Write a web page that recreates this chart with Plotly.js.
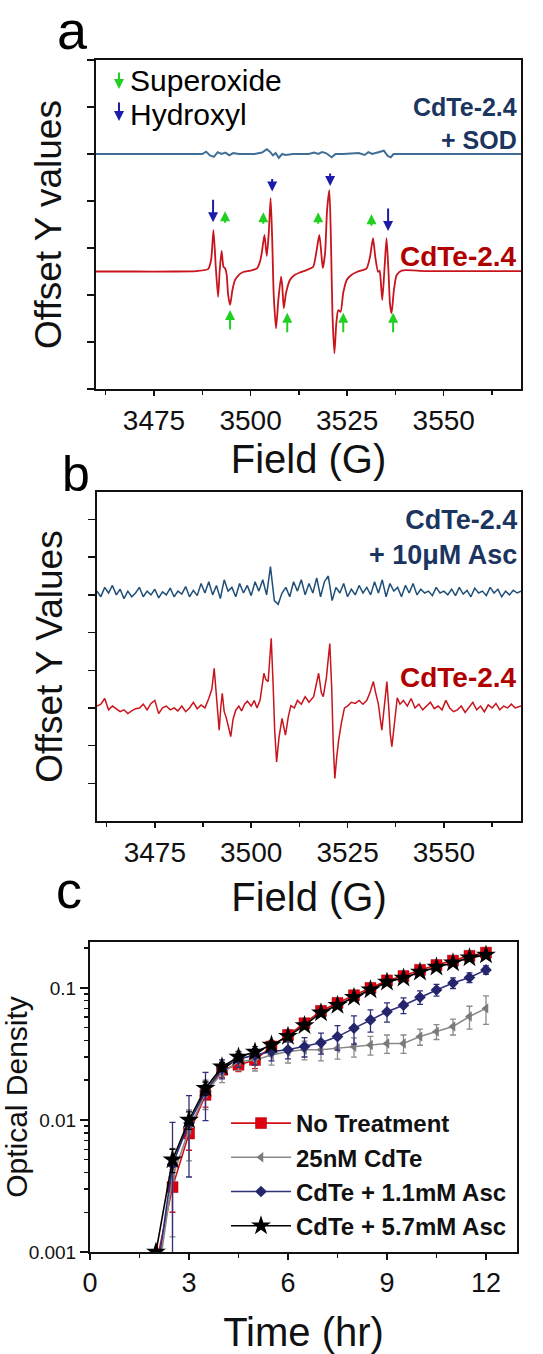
<!DOCTYPE html>
<html>
<head>
<meta charset="utf-8">
<script src="https://cdn.plot.ly/plotly-3.0.1.min.js"></script>
<style>html,body{margin:0;padding:0;background:#fff;}#chart{width:543px;height:1354px;}</style>
</head>
<body>
<div id="chart"></div>
<script>
// ---------- Panel a : EPR spectra (offset) ----------
const fieldA_red = [3460,3470,3480,3486,3489,3489.8,3490.4,3491.0,3491.6,3492.0,3492.5,3493.0,3493.4,3493.8,3494.2,3494.7,3495.3,3496.0,3497.0,3498.1,3500.0,3501.6,3502.4,3502.9,3503.6,3504.2,3504.7,3505.2,3505.6,3506.0,3506.6,3507.2,3507.9,3508.2,3508.6,3509.2,3510.2,3511.5,3512.8,3514.5,3516.2,3517.0,3517.8,3518.3,3518.7,3519.3,3519.8,3520.4,3520.8,3521.2,3521.7,3522.2,3522.7,3523.3,3524.0,3524.9,3526.0,3527.5,3529.0,3530.0,3530.9,3531.7,3532.3,3533.0,3533.4,3533.7,3534.1,3534.7,3535.2,3535.7,3536.1,3536.5,3537.1,3537.8,3539.1,3545,3555,3570];
const signalA_red = [2.5,2.5,2.5,2.51,2.55,2.75,3.38,2.6,1.96,2.5,2.94,2.6,2.57,2.45,2.0,1.79,2.1,2.32,2.43,2.49,2.52,2.56,2.7,2.89,3.28,2.83,3.3,4.06,3.2,2.0,1.29,1.9,2.39,2.2,1.72,2.05,2.32,2.43,2.48,2.53,2.6,2.9,3.28,2.9,2.57,2.9,3.8,4.23,3.2,1.6,0.76,1.4,1.68,1.64,2.05,2.32,2.42,2.49,2.53,2.56,2.8,3.21,2.8,2.49,2.52,2.3,1.89,2.6,3.21,2.5,1.8,1.61,2.1,2.42,2.52,2.51,2.51,2.51];

const fieldA_sod = [3460,3486,3487.5,3488.5,3489.5,3490.5,3491.5,3492.5,3493.5,3494.5,3495.5,3497,3501,3503,3504.2,3505,3505.8,3506.5,3507.3,3508.2,3509,3511,3515,3516.5,3517.5,3518.5,3519.5,3521,3522,3524,3528,3529.5,3530.5,3531.5,3533,3534.5,3535.5,3536.3,3537,3570];
const signalA_sod = [5.0,5.0,5.0,5.05,4.97,4.94,5.04,5.0,5.03,4.97,5.02,5.0,5.0,5.03,5.1,5.05,4.97,5.02,4.92,5.0,4.98,5.0,5.0,5.03,5.0,5.04,5.02,4.93,5.0,5.0,5.02,4.98,5.04,5.0,5.03,5.07,4.96,4.93,5.0,5.0];

// arrow markers (field, tip value)
const hydroxylField = [3490.3, 3505.6, 3520.6, 3535.6];
const hydroxylTip   = [3.55, 4.2, 4.32, 3.36];
const superoxideTopField = [3493.4, 3503.3, 3517.5, 3531.3];
const superoxideTopTip   = [3.78, 3.76, 3.76, 3.72];
const superoxideLowField = [3494.7, 3509.5, 3524.0, 3536.9];
const superoxideLowTip   = [1.68, 1.62, 1.62, 1.62];

// ---------- Panel b ----------
const fieldB_red = [3460,3461,3462,3463,3464,3465,3466,3467,3468,3469,3470,3471,3472,3473,3474,3475,3476,3477,3478,3479,3480,3481,3482,3483,3484,3485,3486,3487,3488,3489,3489.8,3490.4,3491.0,3491.7,3492.1,3492.5,3493.0,3493.5,3494.1,3494.7,3495.3,3496.0,3496.8,3497.5,3498.3,3499,3500,3500.8,3501.5,3502.3,3503.3,3503.8,3504.4,3505.2,3505.7,3506.1,3506.6,3507.2,3508.0,3508.5,3508.9,3509.6,3510.3,3511.2,3512,3513,3514,3515,3516.2,3517.5,3518.2,3518.7,3519.5,3520.4,3520.9,3521.3,3521.7,3522.2,3522.7,3523.4,3524.2,3525,3526,3527,3528,3529,3530,3530.8,3531.7,3532.3,3533.0,3533.5,3533.9,3534.6,3535.2,3535.7,3536.1,3536.5,3537.2,3537.9,3538.6,3539.5,3540.5,3541.5,3542.5,3543.5,3544.5,3545.5,3546.5,3547.5,3548.5,3549.5,3550.5,3551.5,3552.5,3553.5,3554.5,3555.5,3556.5,3557.5,3558.5,3559.5,3560.5,3561.5,3562.5,3563.5,3564.5,3565.5,3566.5,3567.5,3568.5,3570];
const signalB_red = [3.05,3.1,3.25,2.95,3.05,2.98,2.9,2.95,2.85,2.92,2.98,3.0,3.1,2.95,3.12,3.2,2.85,3.0,3.05,2.95,3.0,2.92,3.05,2.9,3.0,3.15,2.98,3.08,3.0,3.25,3.5,4.05,3.2,2.41,3.0,3.39,2.9,2.75,2.5,2.24,2.7,2.94,3.05,2.92,3.1,3.18,3.05,3.2,3.0,3.2,3.92,3.75,3.7,4.85,3.6,2.4,1.57,2.2,2.72,2.5,2.28,2.75,3.06,3.0,3.2,3.1,3.3,3.15,3.3,3.92,3.4,3.3,3.8,4.71,3.5,2.0,1.13,1.7,2.15,2.6,3.0,3.05,3.15,3.12,3.2,3.1,3.2,3.4,3.7,3.4,3.1,2.7,2.41,3.1,3.7,3.0,2.3,1.97,2.7,3.27,3.1,3.2,3.05,3.25,3.0,3.1,2.95,3.05,3.15,2.98,3.05,2.95,3.2,3.0,2.9,2.95,3.05,2.88,3.0,3.15,2.95,3.05,2.9,3.08,3.0,3.12,2.95,3.05,3.0,3.1,3.0,3.05];

const fieldB_asc = [3460,3461,3462,3463,3464,3465,3466,3467,3468,3469,3470,3471,3472,3473,3474,3475,3476,3477,3478,3479,3480,3481,3482,3483,3484,3485,3486,3487,3488,3489,3490,3491,3492,3493,3494,3495,3496,3497,3498,3499,3500,3501,3502,3503,3504,3505,3506,3507,3508,3509,3510,3511,3512,3513,3514,3515,3516,3517,3518,3519,3520,3521,3522,3523,3524,3525,3526,3527,3528,3529,3530,3531,3532,3533,3534,3535,3536,3537,3538,3539,3540,3541,3542,3543,3544,3545,3546,3547,3548,3549,3550,3551,3552,3553,3554,3555,3556,3557,3558,3559,3560,3561,3562,3563,3564,3565,3566,3567,3568,3569,3570];
const signalB_asc = [6.1,5.95,6.2,6.05,6.25,6.0,6.15,5.9,6.1,5.95,6.05,6.2,5.95,6.1,6.0,6.15,5.92,6.08,6.0,6.18,5.95,6.1,6.02,6.22,5.95,6.12,5.98,6.3,6.05,6.35,6.0,6.25,5.9,6.4,6.1,6.2,5.95,6.3,6.05,6.25,5.98,6.35,6.1,6.4,6.0,6.75,5.85,5.75,6.05,6.2,5.95,6.35,6.1,6.4,6.0,6.3,6.05,6.45,5.95,6.35,6.5,5.85,6.2,6.05,6.3,5.95,6.15,6.0,6.25,6.05,6.2,6.0,6.35,6.05,6.4,5.95,6.3,6.1,6.2,5.95,6.25,6.05,6.3,6.0,6.15,6.05,6.1,5.98,6.2,6.05,6.1,6.0,6.15,5.98,6.2,6.02,6.12,5.95,6.18,6.05,6.1,5.98,6.2,6.05,6.15,5.95,6.1,6.0,6.12,6.05,6.1];

// ---------- Panel c : growth curves ----------
const timeHr = [2,2.5,3,3.5,4,4.5,5,5.5,6,6.5,7,7.5,8,8.5,9,9.5,10,10.5,11,11.5,12];
const odNoTreatment = [0.0008,0.0031,0.0079,0.0155,0.024,0.0262,0.0285,0.036,0.044,0.054,0.067,0.077,0.088,0.100,0.114,0.123,0.137,0.149,0.161,0.175,0.185];
const errNoTreatment = [0,0.0011,0.002,0.003,0.003,0.003,0.004,0.004,0.004,0.004,0.005,0.005,0.005,0.006,0.006,0.006,0.007,0.007,0.008,0.008,0.009];
const odCdTe = [0.0005,0.0037,0.0084,0.016,0.0227,0.0277,0.0285,0.031,0.033,0.034,0.034,0.0349,0.0359,0.037,0.038,0.038,0.0428,0.0467,0.051,0.0607,0.070];
const errCdTe = [0,0.0024,0.0035,0.004,0.0035,0.004,0.005,0.005,0.006,0.0055,0.006,0.006,0.006,0.006,0.006,0.006,0.006,0.006,0.007,0.012,0.017];
const odAsc11 = [0.0006,0.0046,0.0095,0.0164,0.0245,0.029,0.031,0.033,0.034,0.036,0.0385,0.0428,0.0495,0.0573,0.066,0.074,0.085,0.0966,0.109,0.12,0.137];
const errAsc11 = [0,0.005,0.0058,0.0065,0.004,0.004,0.005,0.005,0.005,0.006,0.007,0.009,0.012,0.011,0.011,0.010,0.010,0.010,0.010,0.010,0.010];
const odAsc57 = [0.001,0.005,0.010,0.0174,0.0253,0.030,0.0327,0.037,0.043,0.052,0.065,0.074,0.085,0.097,0.111,0.119,0.132,0.144,0.155,0.169,0.178];
const errAsc57 = [0,0.001,0.0015,0.002,0.002,0.002,0.002,0.002,0.002,0.003,0.003,0.003,0.004,0.004,0.004,0.005,0.005,0.005,0.005,0.006,0.006];

const seriesNames = ['No Treatment','25nM CdTe','CdTe + 1.1mM Asc','CdTe + 5.7mM Asc'];
const fieldTicks = [3475,3500,3525,3550];

// ---------- layout helpers ----------
const W = 543, H = 1354;
const px = v => v / W;
const py = v => 1 - v / H;
const FONT = 'Arial, "Liberation Sans", sans-serif';

const traces = [
  {x: fieldA_sod, y: signalA_sod, xaxis:'x', yaxis:'y', mode:'lines', line:{color:'#3f6f96', width:2}, showlegend:false, hoverinfo:'skip'},
  {x: fieldA_red, y: signalA_red, xaxis:'x', yaxis:'y', mode:'lines', line:{color:'#c8141c', width:1.8, shape:'spline', smoothing:0.6}, showlegend:false, hoverinfo:'skip'},
  {x: fieldB_asc, y: signalB_asc, xaxis:'x2', yaxis:'y2', mode:'lines', line:{color:'#1f4e79', width:1.5}, showlegend:false, hoverinfo:'skip'},
  {x: fieldB_red, y: signalB_red, xaxis:'x2', yaxis:'y2', mode:'lines', line:{color:'#c8141c', width:1.5}, showlegend:false, hoverinfo:'skip'},
  {x: timeHr, y: odNoTreatment, name: seriesNames[0], xaxis:'x3', yaxis:'y3', mode:'lines+markers',
   line:{color:'#d0101a', width:1.6}, marker:{symbol:'square', size:11, color:'#e00010', line:{color:'#a00000', width:0.5}},
   error_y:{type:'data', array: errNoTreatment, visible:true, color:'#d0101a', thickness:1.3, width:3}},
  {x: timeHr, y: odCdTe, name: seriesNames[1], xaxis:'x3', yaxis:'y3', mode:'lines+markers',
   line:{color:'#8a8a8a', width:1.6}, marker:{symbol:'triangle-left', size:9, color:'#7a7a7a'},
   error_y:{type:'data', array: errCdTe, visible:true, color:'#8a8a8a', thickness:1.3, width:3}},
  {x: timeHr, y: odAsc11, name: seriesNames[2], xaxis:'x3', yaxis:'y3', mode:'lines+markers',
   line:{color:'#2f2f7a', width:1.6}, marker:{symbol:'diamond', size:9, color:'#25256e'},
   error_y:{type:'data', array: errAsc11, visible:true, color:'#2f2f7a', thickness:1.3, width:3}},
  {x: timeHr, y: odAsc57, name: seriesNames[3], xaxis:'x3', yaxis:'y3', mode:'lines+markers',
   line:{color:'#000000', width:1.6}, marker:{symbol:'star', size:15, color:'#000000'},
   error_y:{type:'data', array: errAsc57, visible:true, color:'#000000', thickness:1.3, width:3}}
];

const annotations = [];
// panel letters
annotations.push({xref:'paper', yref:'paper', x:px(72), y:py(30), text:'a', showarrow:false, font:{family:FONT, size:54, color:'#000'}, xanchor:'center', yanchor:'middle'});
annotations.push({xref:'paper', yref:'paper', x:px(76), y:py(474), text:'b', showarrow:false, font:{family:FONT, size:50, color:'#000'}, xanchor:'center', yanchor:'middle'});
annotations.push({xref:'paper', yref:'paper', x:px(69), y:py(890), text:'c', showarrow:false, font:{family:FONT, size:52, color:'#000'}, xanchor:'center', yanchor:'middle'});
// series labels panel a
annotations.push({xref:'paper', yref:'paper', x:px(519), y:py(124), text:'<b>CdTe-2.4<br>+ SOD</b>', align:'right', showarrow:false, font:{family:FONT, size:25, color:'#1b3560'}, xanchor:'right', yanchor:'middle'});
annotations.push({xref:'paper', yref:'paper', x:px(519), y:py(256), text:'<b>CdTe-2.4</b>', showarrow:false, font:{family:FONT, size:28, color:'#b00000'}, xanchor:'right', yanchor:'middle'});
// legend panel a
annotations.push({xref:'paper', yref:'paper', x:px(128), y:py(80), text:'Superoxide', showarrow:false, font:{family:FONT, size:30, color:'#000'}, xanchor:'left', yanchor:'middle'});
annotations.push({xref:'paper', yref:'paper', x:px(128), y:py(114), text:'Hydroxyl', showarrow:false, font:{family:FONT, size:30, color:'#000'}, xanchor:'left', yanchor:'middle'});
annotations.push({xref:'paper', yref:'paper', x:px(119), y:py(89), ax:0, ay:-18, text:'', showarrow:true, arrowhead:2, arrowsize:1, arrowwidth:2, arrowcolor:'#22d022'});
annotations.push({xref:'paper', yref:'paper', x:px(119), y:py(121), ax:0, ay:-20, text:'', showarrow:true, arrowhead:2, arrowsize:1, arrowwidth:2, arrowcolor:'#1c1ca8'});
// arrows in panel a
hydroxylField.forEach((f,i)=>annotations.push({xref:'x', yref:'y', x:f, y:hydroxylTip[i], ax:0, ay:(i===1||i===2)?-14:-24, text:'', showarrow:true, arrowhead:2, arrowsize:1, arrowwidth:2, arrowcolor:'#1c1ca8'}));
superoxideTopField.forEach((f,i)=>annotations.push({xref:'x', yref:'y', x:f, y:superoxideTopTip[i], ax:0, ay:13, text:'', showarrow:true, arrowhead:2, arrowsize:1, arrowwidth:2, arrowcolor:'#22d022'}));
superoxideLowField.forEach((f,i)=>annotations.push({xref:'x', yref:'y', x:f, y:superoxideLowTip[i], ax:0, ay:21, text:'', showarrow:true, arrowhead:2, arrowsize:1, arrowwidth:2, arrowcolor:'#22d022'}));
// series labels panel b
annotations.push({xref:'paper', yref:'paper', x:px(519), y:py(537), text:'<b>CdTe-2.4<br>+ 10μM Asc</b>', align:'right', showarrow:false, font:{family:FONT, size:27, color:'#1b3560'}, xanchor:'right', yanchor:'middle'});
annotations.push({xref:'paper', yref:'paper', x:px(519), y:py(677), text:'<b>CdTe-2.4</b>', showarrow:false, font:{family:FONT, size:28, color:'#b00000'}, xanchor:'right', yanchor:'middle'});

const axisCommon = {showline:true, linewidth:2, linecolor:'#111', mirror:true, showgrid:false, zeroline:false, ticks:'outside', tickcolor:'#111', tickwidth:1.5};

const layout = {
  width: W, height: H,
  margin:{l:0, r:0, t:0, b:0},
  paper_bgcolor:'#fff', plot_bgcolor:'#fff',
  font:{family:FONT, color:'#111'},
  showlegend:true,
  legend:{x:px(226), y:py(1101), xanchor:'left', yanchor:'top', bgcolor:'rgba(0,0,0,0)', borderwidth:0,
          font:{family:FONT, size:24, color:'#111', weight:'bold'}, itemwidth:60, tracegroupgap:0},
  xaxis: Object.assign({}, axisCommon, {domain:[px(96), px(521)], anchor:'y', range:[3460,3570], tickvals:fieldTicks, ticklen:5,
          minor:{dtick:12.5, tick0:3462.5, ticks:'outside', ticklen:4, tickcolor:'#111'},
          tickfont:{family:FONT, size:28, color:'#111'}, title:{text:'Field (G)', font:{family:FONT, size:40, color:'#111'}, standoff:10}}),
  yaxis: Object.assign({}, axisCommon, {domain:[py(389), py(60)], anchor:'x', range:[0,7], tickvals:[0,1,2,3,4,5,6,7], ticklen:7, showticklabels:false,
          title:{text:'Offset Y values', font:{family:FONT, size:37, color:'#111'}, standoff:14}}),
  xaxis2: Object.assign({}, axisCommon, {domain:[px(97), px(521)], anchor:'y2', range:[3460,3570], tickvals:fieldTicks, ticklen:5,
          minor:{dtick:12.5, tick0:3462.5, ticks:'outside', ticklen:4, tickcolor:'#111'},
          tickfont:{family:FONT, size:28, color:'#111'}, title:{text:'Field (G)', font:{family:FONT, size:40, color:'#111'}, standoff:16}}),
  yaxis2: Object.assign({}, axisCommon, {domain:[py(821), py(492)], anchor:'x2', range:[0,8.73], tickvals:[1,2,3,4,5,6,7,8], ticklen:7, showticklabels:false,
          title:{text:'Offset Y Values', font:{family:FONT, size:37, color:'#111'}, standoff:14}}),
  xaxis3: Object.assign({}, axisCommon, {domain:[px(90), px(517)], anchor:'y3', range:[0,12.94], tick0:0, dtick:3, ticklen:6,
          minor:{dtick:1.5, tick0:0, ticks:'outside', ticklen:4, tickcolor:'#111'},
          tickfont:{family:FONT, size:27, color:'#111'}, title:{text:'Time (hr)', font:{family:FONT, size:40, color:'#111'}, standoff:24}}),
  yaxis3: Object.assign({}, axisCommon, {domain:[py(1252), py(942)], anchor:'x3', type:'log', range:[-3,-0.652], tickvals:[0.001,0.01,0.1], ticktext:['0.001','0.01','0.1'], ticklen:8,
          minor:{tickvals:[0.002,0.003,0.004,0.005,0.006,0.007,0.008,0.009,0.02,0.03,0.04,0.05,0.06,0.07,0.08,0.09,0.2], ticks:'outside', ticklen:4, tickcolor:'#111'},
          tickfont:{family:FONT, size:19, color:'#111'}, title:{text:'Optical Density', font:{family:FONT, size:30, color:'#111'}, standoff:4}}),
  annotations: annotations
};

Plotly.newPlot('chart', traces, layout, {staticPlot:true, displayModeBar:false});
</script>
</body>
</html>
